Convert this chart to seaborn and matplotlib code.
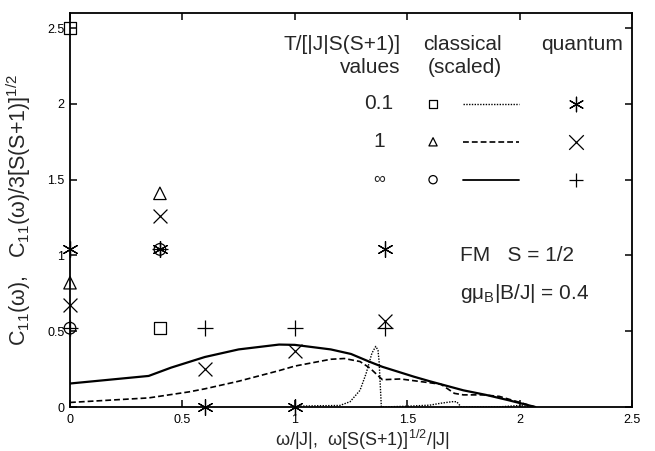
import matplotlib
matplotlib.use("Agg")
import matplotlib.pyplot as plt
import seaborn as sns
import numpy as np

# ---- classical spectra (scaled), three temperatures ----
cl_inf_x = [0.0, 0.35, 0.45, 0.6, 0.75, 0.93, 1.0, 1.16, 1.25, 1.33, 1.39, 1.53, 1.6, 1.75, 1.85, 1.95, 2.07]
cl_inf_y = [0.155, 0.205, 0.26, 0.33, 0.38, 0.412, 0.41, 0.38, 0.35, 0.30, 0.265, 0.20, 0.17, 0.11, 0.08, 0.045, 0.0]

cl_1_x = [0.0, 0.35, 0.53, 0.6, 0.75, 0.93, 1.0, 1.16, 1.22, 1.29, 1.335, 1.375, 1.39, 1.47, 1.6, 1.65, 1.71, 1.75, 1.84, 1.91, 2.07]
cl_1_y = [0.03, 0.06, 0.10, 0.12, 0.17, 0.24, 0.27, 0.315, 0.32, 0.30, 0.256, 0.20, 0.18, 0.185, 0.16, 0.15, 0.09, 0.08, 0.08, 0.07, 0.0]

cl_01_x = [1.0, 1.1, 1.2, 1.246, 1.29, 1.317, 1.343, 1.36, 1.37, 1.375, 1.385, 1.5, 1.6, 1.65, 1.70, 1.72, 1.74, 1.9, 2.0, 2.07]
cl_01_y = [0.005, 0.008, 0.01, 0.035, 0.11, 0.22, 0.355, 0.40, 0.375, 0.30, 0.0, 0.005, 0.012, 0.025, 0.035, 0.035, 0.0, 0.0, 0.01, 0.0]

# ---- classical static values (points) ----
cl_pt_x = [0.0, 0.4]
cl_pt_01 = [2.5, 0.52]
cl_pt_1 = [0.82, 1.41]
cl_pt_inf = [0.52, 1.04]

# ---- quantum weights ----
q_x = [0.0, 0.4, 0.6, 1.0, 1.4]
q_01 = [1.04, 1.04, 0.0, 0.0, 1.04]
q_1 = [0.67, 1.26, 0.25, 0.37, 0.57]
q_inf = [0.52, 1.04, 0.52, 0.52, 0.52]

row_labels = ["0.1", "1", "∞"]
row_y = [2.0, 1.75, 1.5]

x_ticks = [0, 0.5, 1, 1.5, 2, 2.5]
x_ticklabels = ["0", "0.5", "1", "1.5", "2", "2.5"]
y_ticks = [0, 0.5, 1, 1.5, 2, 2.5]
y_ticklabels = ["0", "0.5", "1", "1.5", "2", "2.5"]

sns.set_style("white")
plt.rcParams["font.family"] = ["Liberation Sans", "DejaVu Sans"]
plt.rcParams["mathtext.fontset"] = "custom"
plt.rcParams["mathtext.rm"] = "Liberation Sans"
plt.rcParams["mathtext.it"] = "Liberation Sans:italic"
plt.rcParams["mathtext.bf"] = "Liberation Sans:bold"

fig = plt.figure(figsize=(6.55, 4.51), dpi=100)
ax = fig.add_axes([70 / 655, 1 - 407 / 451, 562 / 655, 394 / 451])

K = "black"
ls_01 = (0, (1, 1))
ls_1 = (0, (3.5, 1.8))

sns.lineplot(x=cl_01_x, y=cl_01_y, ax=ax, color=K, lw=1.0, linestyle=ls_01,
             estimator=None, sort=False)
sns.lineplot(x=cl_1_x, y=cl_1_y, ax=ax, color=K, lw=1.2, linestyle=ls_1,
             estimator=None, sort=False)
sns.lineplot(x=cl_inf_x, y=cl_inf_y, ax=ax, color=K, lw=1.6,
             estimator=None, sort=False)

open_kw = dict(facecolor="none", edgecolor=K, linewidth=0.9, clip_on=False, zorder=5)
line_kw = dict(color=K, linewidth=0.9, clip_on=False, zorder=5)

sns.scatterplot(x=cl_pt_x, y=cl_pt_01, ax=ax, marker="s", s=80, **open_kw)
sns.scatterplot(x=cl_pt_x, y=cl_pt_1, ax=ax, marker="^", s=80, **open_kw)
sns.scatterplot(x=cl_pt_x, y=cl_pt_inf, ax=ax, marker="o", s=70, **open_kw)

sns.scatterplot(x=q_x, y=q_01, ax=ax, marker=(6, 2, 0), s=130, **line_kw)
sns.scatterplot(x=q_x, y=q_1, ax=ax, marker="x", s=100, **line_kw)
sns.scatterplot(x=q_x, y=q_inf, ax=ax, marker="+", s=130, **line_kw)

# ---- key drawn inside the axes ----
fs = 15
ax.text(1.47, 2.39, "T/[|J|S(S+1)]", fontsize=fs, ha="right", va="center")
ax.text(1.47, 2.24, "values", fontsize=fs, ha="right", va="center")
ax.text(1.745, 2.39, "classical", fontsize=fs, ha="center", va="center")
ax.text(1.755, 2.24, "(scaled)", fontsize=fs, ha="center", va="center")
ax.text(2.28, 2.39, "quantum", fontsize=fs, ha="center", va="center")

key_marker = ["s", "^", "o"]
key_q = [(6, 2, 0), "x", "+"]
key_ls = [ls_01, ls_1, "-"]
key_lw = [1.0, 1.2, 1.3]
key_fs = [fs, fs, 12]
for lab, yy, mk, qm, ls, lw, f in zip(row_labels, row_y, key_marker, key_q, key_ls, key_lw, key_fs):
    ax.text(1.375, yy, lab, fontsize=f, ha="center", va="center")
    sns.scatterplot(x=[1.615], y=[yy], ax=ax, marker=mk, s=35, **open_kw)
    sns.lineplot(x=[1.748, 1.997], y=[yy, yy], ax=ax, color=K, lw=lw, linestyle=ls)
    sns.scatterplot(x=[2.25], y=[yy], ax=ax, marker=qm, s=110, **line_kw)

ax.text(1.735, 1.0, "FM   S = 1/2", fontsize=fs, ha="left", va="center")
ax.text(1.735, 0.75, r"gμ$_\mathrm{B}$|B/J| = 0.4", fontsize=fs, ha="left", va="center")

ax.set_xlim(0, 2.5)
ax.set_ylim(0, 2.6)
ax.set_xticks(x_ticks)
ax.set_xticklabels(x_ticklabels)
ax.set_yticks(y_ticks)
ax.set_yticklabels(y_ticklabels)
ax.tick_params(direction="in", length=5, width=1.1, labelsize=9,
               top=True, right=True, bottom=True, left=True, colors=K)
ax.tick_params(axis="x", pad=5)
ax.tick_params(axis="y", pad=4)
for sp in ax.spines.values():
    sp.set_visible(True)
    sp.set_color(K)
    sp.set_linewidth(1.3)

ax.set_xlabel(r"ω/|J|,  ω[S(S+1)]$^{1/2}$/|J|", fontsize=13, va="top")
ax.set_ylabel(r"C$_{11}$(ω),   C$_{11}$(ω)/3[S(S+1)]$^{1/2}$", fontsize=15.5)
ax.yaxis.set_label_coords(-0.066, 0.5)
ax.xaxis.set_label_coords(0.52, -0.054)

fig.savefig("out.png", dpi=100)
